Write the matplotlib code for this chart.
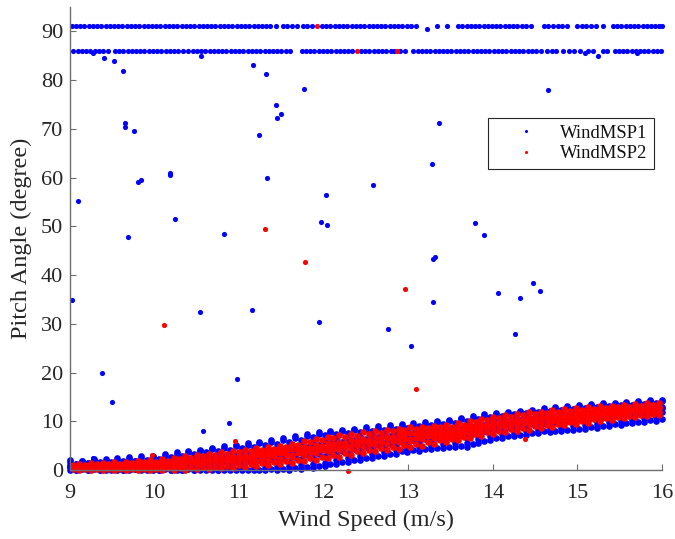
import matplotlib
matplotlib.use("Agg")
import matplotlib.pyplot as plt

# ---------------- data ----------------
series_names = ["WindMSP1", "WindMSP2"]
x_ticks = [9, 10, 11, 12, 13, 14, 15, 16]
y_ticks = [0, 10, 20, 30, 40, 50, 60, 70, 80, 90]

# dense band of WindMSP1 (columns of wind speed, several y samples per column)
msp1_band_x = [
    9.00, 9.07, 9.14, 9.21, 9.28, 9.35, 9.42, 9.49, 9.56, 9.63,
    9.70, 9.77, 9.84, 9.91, 9.98, 10.05, 10.12, 10.19, 10.26, 10.33,
    10.40, 10.47, 10.54, 10.61, 10.68, 10.75, 10.82, 10.89, 10.96, 11.03,
    11.10, 11.17, 11.24, 11.31, 11.38, 11.45, 11.52, 11.59, 11.66, 11.73,
    11.80, 11.87, 11.94, 12.01, 12.08, 12.15, 12.22, 12.29, 12.36, 12.43,
    12.50, 12.57, 12.64, 12.71, 12.78, 12.85, 12.92, 12.99, 13.06, 13.13,
    13.20, 13.27, 13.34, 13.41, 13.48, 13.55, 13.62, 13.69, 13.76, 13.83,
    13.90, 13.97, 14.04, 14.11, 14.18, 14.25, 14.32, 14.39, 14.46, 14.53,
    14.60, 14.67, 14.74, 14.81, 14.88, 14.95, 15.02, 15.09, 15.16, 15.23,
    15.30, 15.37, 15.44, 15.51, 15.58, 15.65, 15.72, 15.79, 15.86, 15.93,
    16.00]
msp1_band_low = [
    0.1, 0.0, 0.2, 0.05, 0.15, 0.0, 0.1, 0.25, 0.0, 0.1,
    0.05, 0.2, 0.0, 0.15, 0.1, 0.0, 0.2, 0.05, 0.1, 0.0,
    0.15, 0.1, 0.0, 0.2, 0.05, 0.1, 0.0, 0.15, 0.1, 0.3,
    0.0, 0.4, 0.1, 0.5, 0.2, 0.6, 0.3, 0.8, 0.4, 1.0,
    0.7, 1.3, 0.9, 1.5, 1.2, 2.0, 1.6, 2.4, 2.0, 2.8,
    2.5, 3.3, 2.9, 3.7, 3.3, 4.1, 3.8, 4.5, 4.1, 4.8,
    4.4, 5.0, 4.6, 5.3, 4.8, 5.5, 5.0, 5.6, 5.4, 6.3,
    6.0, 6.9, 6.6, 7.3, 6.9, 7.6, 7.2, 8.0, 7.6, 8.3,
    7.9, 8.5, 8.1, 8.7, 8.3, 9.0, 8.5, 9.2, 8.8, 9.5,
    9.1, 9.8, 9.4, 10.0, 9.7, 10.3, 9.9, 10.6, 10.2, 10.9,
    10.5]
msp1_band_q1 = [
    0.6, 0.3, 0.7, 0.4, 0.8, 0.3, 0.7, 0.4, 0.9, 0.5,
    0.8, 0.4, 0.9, 0.5, 1.0, 0.5, 1.1, 0.6, 1.2, 0.7,
    1.3, 0.8, 1.4, 0.9, 1.5, 1.0, 1.6, 1.1, 1.7, 1.2,
    1.9, 1.3, 2.0, 1.5, 2.2, 1.6, 2.4, 1.9, 2.7, 2.2,
    3.0, 2.5, 3.3, 2.8, 3.6, 3.2, 4.0, 3.5, 4.4, 3.9,
    4.7, 4.3, 5.1, 4.6, 5.4, 5.0, 5.8, 5.3, 6.1, 5.6,
    6.3, 5.9, 6.6, 6.1, 6.8, 6.3, 7.1, 6.5, 7.4, 7.1,
    8.0, 7.7, 8.5, 8.0, 8.8, 8.3, 9.1, 8.6, 9.4, 8.9,
    9.7, 9.2, 9.9, 9.4, 10.1, 9.6, 10.4, 9.9, 10.6, 10.1,
    10.9, 10.4, 11.1, 10.6, 11.3, 10.9, 11.6, 11.1, 11.8, 11.4,
    12.0]
msp1_band_mid = [
    0.65, 0.9, 0.6, 0.82, 0.9, 0.7, 1.1, 0.85, 0.8, 1.1,
    1.02, 0.85, 1.25, 1.2, 1.1, 1.2, 1.55, 1.3, 1.6, 1.6,
    1.3, 1.9, 2.2, 1.7, 1.9, 2.3, 1.9, 2.7, 2.35, 2.25,
    2.6, 2.2, 3.0, 2.7, 3.1, 2.7, 3.15, 3.7, 3.3, 3.6,
    4.2, 3.6, 4.3, 4.38, 4.2, 4.9, 4.8, 5.4, 5.0, 5.0,
    5.6, 5.66, 6.1, 5.6, 6.0, 6.5, 6.3, 7.0, 6.5, 6.87,
    7.1, 7.0, 6.8, 7.6, 7.3, 7.8, 7.73, 7.6, 8.5, 8.3,
    8.7, 8.7, 8.7, 9.5, 9.36, 9.4, 9.8, 9.5, 10.3, 9.85,
    10.1, 10.4, 10.1, 10.8, 10.65, 10.4, 11.1, 10.9, 11.5, 11.0,
    11.33, 11.1, 11.7, 12.0, 11.4, 11.8, 12.2, 11.9, 12.6, 12.0,
    12.65]
msp1_band_q3 = [
    1.0, 1.3, 0.9, 1.4, 1.0, 1.5, 1.1, 1.6, 1.2, 1.7,
    1.3, 1.8, 1.4, 1.9, 1.5, 2.1, 1.7, 2.3, 1.9, 2.6,
    2.2, 2.8, 2.4, 3.0, 2.6, 3.3, 2.8, 3.5, 3.0, 3.7,
    3.3, 4.0, 3.5, 4.2, 3.8, 4.5, 4.0, 4.8, 4.4, 5.2,
    4.8, 5.6, 5.2, 6.0, 5.5, 6.3, 5.8, 6.5, 6.1, 6.8,
    6.4, 7.1, 6.7, 7.4, 6.9, 7.6, 7.2, 7.9, 7.5, 8.2,
    7.7, 8.4, 7.9, 8.6, 8.2, 8.9, 8.5, 9.2, 8.9, 9.7,
    9.3, 10.1, 9.8, 10.4, 10.0, 10.7, 10.3, 10.9, 10.5, 11.2,
    10.8, 11.4, 11.0, 11.7, 11.3, 11.9, 11.5, 12.1, 11.7, 12.3,
    11.9, 12.5, 12.1, 12.7, 12.3, 12.9, 12.5, 13.1, 12.7, 13.3,
    12.9]
msp1_band_high = [
    1.6, 1.3, 1.8, 1.5, 2.0, 1.6, 1.9, 1.5, 2.1, 1.8,
    2.3, 1.9, 2.4, 2.1, 2.6, 2.3, 2.9, 2.6, 3.3, 2.9,
    3.6, 3.2, 3.9, 3.6, 4.3, 3.9, 4.5, 4.2, 4.9, 4.5,
    5.1, 4.8, 5.5, 5.1, 5.8, 5.4, 6.1, 5.8, 6.6, 6.2,
    7.0, 6.7, 7.4, 7.1, 7.8, 7.4, 8.0, 7.6, 8.2, 7.8,
    8.4, 8.1, 8.6, 8.3, 8.9, 8.5, 9.1, 8.7, 9.3, 9.0,
    9.5, 9.2, 9.8, 9.4, 10.0, 9.7, 10.4, 10.1, 10.7, 10.5,
    11.1, 10.9, 11.5, 11.1, 11.7, 11.4, 11.9, 11.6, 12.2, 11.8,
    12.4, 12.1, 12.7, 12.3, 12.9, 12.6, 13.1, 12.8, 13.3, 12.9,
    13.5, 13.1, 13.6, 13.3, 13.8, 13.4, 14.0, 13.6, 14.1, 13.8,
    14.2]
msp1_band_edge = [
    2.1, 0.0, 1.9, 0.1, 2.3, 0.0, 2.2, 0.1, 2.5, 0.0,
    2.6, 0.2, 2.8, 0.0, 2.9, 0.1, 3.3, 0.0, 3.6, 0.1,
    4.0, 0.0, 4.2, 0.1, 4.6, -0.1, 4.9, 0.0, 5.1, -0.1,
    5.5, 0.0, 5.8, -0.1, 6.1, 0.0, 6.5, 0.1, 6.9, 0.3,
    7.3, 0.5, 7.7, 0.8, 8.0, 1.2, 8.3, 1.7, 8.5, 2.1,
    8.8, 2.5, 9.0, 2.9, 9.2, 3.3, 9.4, 3.7, 9.6, 4.0,
    9.8, 4.3, 10.0, 4.5, 10.3, 4.7, 10.6, 4.8, 11.0, 5.5,
    11.4, 6.1, 11.7, 6.5, 12.0, 6.9, 12.2, 7.2, 12.4, 7.6,
    12.7, 7.7, 12.9, 8.0, 13.1, 8.2, 13.3, 8.5, 13.5, 8.7,
    13.7, 9.0, 13.8, 9.3, 14.0, 9.6, 14.2, 9.8, 14.3, 10.1,
    14.4]

# WindMSP1 samples stuck at the two pitch limits
msp1_row_hi_level = 91.0
msp1_row_hi_x = [
    9.02, 9.07, 9.12, 9.17, 9.22, 9.27, 9.32, 9.37, 9.42, 9.47, 9.52, 9.57,
    9.62, 9.67, 9.72, 9.77, 9.82, 9.87, 9.92, 9.97, 10.02, 10.07, 10.12,
    10.17, 10.22, 10.27, 10.32, 10.37, 10.42, 10.47, 10.52, 10.57, 10.62,
    10.67, 10.72, 10.77, 10.82, 10.87, 10.92, 10.97, 11.02, 11.07, 11.12,
    11.17, 11.22, 11.27, 11.32, 11.37, 11.44,
    11.52, 11.57, 11.63, 11.69, 11.75, 11.80, 11.86,
    11.98, 12.03, 12.08, 12.13, 12.18, 12.23, 12.28, 12.33, 12.38, 12.43,
    12.48, 12.53, 12.58, 12.63, 12.68, 12.73, 12.78, 12.83, 12.88, 12.93,
    12.98, 13.03, 13.09, 13.34, 13.46,
    13.59, 13.64, 13.69, 13.74, 13.79, 13.84, 13.89, 13.94, 13.99, 14.04,
    14.09, 14.14, 14.19, 14.24, 14.29, 14.34, 14.39, 14.45,
    14.60, 14.65, 14.71, 14.77, 14.82, 14.88,
    15.00, 15.05, 15.10, 15.16, 15.22, 15.30,
    15.42, 15.47, 15.52, 15.57, 15.62, 15.67, 15.72, 15.77, 15.82, 15.87,
    15.92, 15.97, 16.00]
msp1_row_lo_level = 86.0
msp1_row_lo_x = [
    9.04, 9.09, 9.14, 9.19, 9.24, 9.29, 9.34, 9.39, 9.45,
    9.53, 9.58, 9.63, 9.68, 9.73, 9.78, 9.83, 9.88, 9.93, 9.98, 10.03,
    10.08, 10.13, 10.18, 10.23, 10.28, 10.34,
    10.40, 10.45, 10.50, 10.55, 10.60, 10.65, 10.70, 10.75, 10.80, 10.85,
    10.90, 10.95, 11.00, 11.05, 11.10, 11.15, 11.20, 11.25, 11.30, 11.35,
    11.40, 11.45, 11.50, 11.55, 11.60,
    11.74, 11.79, 11.84, 11.89, 11.94, 11.99, 12.04, 12.09, 12.14, 12.19,
    12.24, 12.29, 12.34, 12.44, 12.49, 12.54, 12.59, 12.64, 12.69, 12.74,
    12.79, 12.83, 12.90, 12.96,
    13.06, 13.11, 13.16, 13.21, 13.26, 13.31, 13.36, 13.41, 13.46, 13.51,
    13.56, 13.61, 13.66, 13.71, 13.76, 13.81, 13.86, 13.91, 13.96, 14.01,
    14.06, 14.11, 14.16, 14.21, 14.26, 14.31, 14.36, 14.41, 14.46, 14.51,
    14.57,
    14.64, 14.70, 14.75, 14.83, 14.90, 14.96, 15.03, 15.12, 15.18, 15.30,
    15.35,
    15.44, 15.49, 15.54, 15.59, 15.64, 15.69, 15.74, 15.79, 15.84, 15.89,
    15.94, 15.99]

# scattered WindMSP1 points
msp1_out_x = [9.02, 9.09, 9.38, 9.50, 9.40, 9.52, 9.63, 9.65, 9.65, 9.76,
              9.69, 9.80, 9.84, 10.18, 10.18, 10.24, 10.54, 10.55, 10.57, 10.82,
              10.88, 10.97, 11.15, 11.16, 11.23, 11.32, 11.33, 11.43, 11.45, 11.50,
              11.77, 11.94, 11.97, 12.04, 12.03, 12.58, 12.76, 13.03, 13.22, 13.28,
              13.29, 13.32, 13.29, 13.36, 13.79, 13.90, 14.06, 14.26, 14.32, 14.47,
              14.56, 14.65, 15.09, 15.24, 15.70, 9.27, 9.27]
msp1_out_y = [34.8, 55.1, 19.9, 13.9, 84.5, 83.9, 81.8, 71.1, 70.3, 69.5,
              47.8, 59.0, 59.5, 60.9, 60.5, 51.5, 32.4, 84.9, 8.0, 48.4,
              9.6, 18.7, 32.8, 83.0, 68.7, 81.2, 59.9, 74.8, 72.3, 73.0,
              78.1, 30.3, 50.8, 50.2, 56.4, 58.4, 28.9, 25.4, 90.4, 62.8,
              43.3, 43.7, 34.4, 71.1, 50.6, 48.2, 36.3, 27.9, 35.3, 38.3,
              36.7, 77.9, 85.5, 84.9, 85.5, 85.5, 2.5]

# dense band of WindMSP2
msp2_band_x = [
    9.035, 9.105, 9.175, 9.245, 9.315, 9.385, 9.455, 9.525, 9.595, 9.665,
    9.735, 9.805, 9.875, 9.945, 10.015, 10.085, 10.155, 10.225, 10.295, 10.365,
    10.435, 10.505, 10.575, 10.645, 10.715, 10.785, 10.855, 10.925, 10.995, 11.065,
    11.135, 11.205, 11.275, 11.345, 11.415, 11.485, 11.555, 11.625, 11.695, 11.765,
    11.835, 11.905, 11.975, 12.045, 12.115, 12.185, 12.255, 12.325, 12.395, 12.465,
    12.535, 12.605, 12.675, 12.745, 12.815, 12.885, 12.955, 13.025, 13.095, 13.165,
    13.235, 13.305, 13.375, 13.445, 13.515, 13.585, 13.655, 13.725, 13.795, 13.865,
    13.935, 14.005, 14.075, 14.145, 14.215, 14.285, 14.355, 14.425, 14.495, 14.565,
    14.635, 14.705, 14.775, 14.845, 14.915, 14.985, 15.055, 15.125, 15.195, 15.265,
    15.335, 15.405, 15.475, 15.545, 15.615, 15.685, 15.755, 15.825, 15.895, 15.965]
msp2_band_low = [
    0.2, 0.0, 0.3, 0.1, 0.2, 0.0, 0.3, 0.1, 0.2, 0.0,
    0.3, 0.1, 0.2, 0.0, 0.3, 0.1, 0.4, 0.1, 0.4, 0.1,
    0.5, 0.2, 0.6, 0.3, 0.7, 0.4, 0.8, 0.5, 1.0, 0.6,
    1.2, 0.8, 1.4, 1.0, 1.6, 1.2, 1.8, 1.4, 2.1, 1.8,
    2.4, 2.0, 2.7, 2.4, 3.1, 2.7, 3.4, 3.1, 3.8, 3.5,
    4.1, 3.8, 4.5, 4.1, 4.8, 4.4, 5.1, 4.7, 5.4, 5.0,
    5.7, 5.4, 6.1, 5.7, 6.4, 6.1, 6.8, 6.5, 7.3, 7.0,
    7.7, 7.4, 8.1, 7.8, 8.4, 8.0, 8.7, 8.3, 9.0, 8.6,
    9.2, 8.9, 9.5, 9.2, 9.8, 9.4, 10.1, 9.7, 10.4, 10.0,
    10.6, 10.3, 10.9, 10.6, 11.1, 10.8, 11.3, 11.0, 11.5, 11.2]
msp2_band_q1 = [
    0.5, 0.3, 0.6, 0.4, 0.7, 0.4, 0.7, 0.5, 0.8, 0.5,
    0.8, 0.6, 0.9, 0.6, 1.0, 0.7, 1.1, 0.8, 1.2, 0.9,
    1.4, 1.0, 1.5, 1.2, 1.7, 1.3, 1.9, 1.5, 2.1, 1.7,
    2.3, 1.9, 2.5, 2.1, 2.8, 2.3, 3.0, 2.6, 3.4, 3.0,
    3.7, 3.4, 4.1, 3.8, 4.4, 4.1, 4.8, 4.4, 5.1, 4.8,
    5.4, 5.1, 5.7, 5.4, 6.0, 5.7, 6.3, 6.0, 6.6, 6.3,
    6.9, 6.6, 7.1, 6.8, 7.4, 7.2, 7.8, 7.6, 8.3, 8.1,
    8.7, 8.5, 9.1, 8.8, 9.4, 9.1, 9.7, 9.4, 10.0, 9.7,
    10.2, 10.0, 10.5, 10.2, 10.8, 10.5, 11.0, 10.7, 11.3, 11.0,
    11.5, 11.2, 11.7, 11.5, 11.9, 11.6, 12.1, 11.8, 12.3, 12.0]
msp2_band_mid = [
    0.7, 0.5, 0.85, 0.68, 0.65, 0.9, 0.55, 0.8, 0.95, 0.75,
    0.89, 1.1, 0.8, 0.95, 1.15, 1.15, 1.0, 1.4, 1.25, 1.42,
    1.9, 1.5, 1.4, 2.0, 2.0, 1.8, 2.4, 1.8, 2.3, 2.6,
    2.4, 3.0, 2.5, 3.0, 2.8, 3.4, 3.26, 3.1, 3.9, 4.0,
    3.7, 4.6, 4.3, 4.63, 5.1, 4.8, 5.2, 4.9, 5.6, 5.9,
    5.6, 5.9, 5.8, 6.6, 6.4, 6.3, 6.8, 6.4, 7.2, 7.04,
    7.1, 7.4, 7.8, 7.2, 7.9, 7.7, 8.08, 8.6, 8.1, 8.9,
    8.9, 9.4, 9.8, 9.2, 9.66, 9.9, 9.7, 10.4, 9.8, 10.6,
    10.6, 10.5, 11.0, 10.6, 10.99, 11.5, 11.0, 11.5, 11.1, 11.8,
    11.68, 12.1, 11.8, 11.7, 12.5, 12.3, 12.1, 12.6, 12.0, 12.8]
msp2_band_q3 = [
    0.7, 0.9, 0.8, 1.0, 0.8, 1.1, 0.9, 1.1, 1.0, 1.2,
    1.0, 1.3, 1.1, 1.4, 1.2, 1.6, 1.4, 1.8, 1.6, 2.0,
    1.8, 2.2, 2.0, 2.4, 2.2, 2.7, 2.4, 2.9, 2.6, 3.1,
    2.9, 3.4, 3.1, 3.6, 3.4, 3.9, 3.6, 4.3, 4.1, 4.7,
    4.5, 5.1, 4.9, 5.5, 5.3, 5.8, 5.6, 6.1, 5.9, 6.4,
    6.2, 6.7, 6.5, 7.0, 6.8, 7.3, 7.1, 7.6, 7.4, 7.8,
    7.6, 8.0, 7.8, 8.2, 8.0, 8.6, 8.4, 9.0, 8.9, 9.5,
    9.3, 9.9, 9.7, 10.2, 10.0, 10.5, 10.3, 10.8, 10.6, 11.0,
    10.8, 11.3, 11.1, 11.5, 11.3, 11.8, 11.6, 12.0, 11.8, 12.2,
    12.0, 12.4, 12.2, 12.6, 12.4, 12.8, 12.5, 12.9, 12.7, 13.0]
msp2_band_high = [
    1.0, 1.3, 1.1, 1.4, 1.2, 1.5, 1.2, 1.6, 1.3, 1.7,
    1.4, 1.9, 1.6, 2.0, 1.7, 2.2, 1.9, 2.5, 2.2, 2.8,
    2.5, 3.1, 2.8, 3.3, 3.0, 3.6, 3.3, 3.9, 3.6, 4.2,
    3.9, 4.5, 4.1, 4.7, 4.4, 5.0, 4.7, 5.4, 5.2, 5.9,
    5.7, 6.4, 6.1, 6.8, 6.5, 7.1, 6.8, 7.4, 7.0, 7.7,
    7.3, 7.9, 7.6, 8.2, 7.9, 8.5, 8.2, 8.8, 8.4, 8.9,
    8.6, 9.1, 8.8, 9.3, 8.9, 9.6, 9.3, 10.0, 9.8, 10.5,
    10.2, 10.9, 10.6, 11.2, 10.9, 11.5, 11.2, 11.8, 11.5, 12.0,
    11.7, 12.3, 11.9, 12.5, 12.2, 12.7, 12.4, 12.9, 12.6, 13.1,
    12.7, 13.2, 12.9, 13.4, 13.0, 13.5, 13.2, 13.7, 13.3, 13.8]

# scattered WindMSP2 points
msp2_out_x = [10.11, 11.31, 11.78, 12.96, 13.09, 10.95, 9.97, 14.38, 12.29,
              11.92, 12.39, 12.87]
msp2_out_y = [29.8, 49.4, 42.6, 37.1, 16.6, 6.0, 3.0, 6.3, -0.3,
              91.0, 86.0, 86.0]

# ---------------- assemble series ----------------
msp1_bx = msp1_band_x * 6
msp1_by = (msp1_band_low + msp1_band_q1 + msp1_band_mid + msp1_band_q3
           + msp1_band_high + msp1_band_edge)
msp1_sx = msp1_row_hi_x + msp1_row_lo_x + msp1_out_x
msp1_sy = ([msp1_row_hi_level] * len(msp1_row_hi_x)
           + [msp1_row_lo_level] * len(msp1_row_lo_x) + msp1_out_y)
msp2_bx = msp2_band_x * 5
msp2_by = (msp2_band_low + msp2_band_q1 + msp2_band_mid + msp2_band_q3
           + msp2_band_high)

# ---------------- figure ----------------
plt.rcParams['font.family'] = ['Liberation Serif', 'DejaVu Serif']

fig = plt.figure(figsize=(6.75, 5.39), dpi=100)
ax = fig.add_axes([70 / 675, 69 / 539, 592 / 675, 463 / 539])

blue, red = '#0000ff', '#ff0000'
ms_pt, ms_band = 3.7, 4.8
ax.plot(msp1_bx, msp1_by, linestyle='none', marker='o', ms=ms_band,
        markeredgewidth=0, color=blue, clip_on=False)
ax.plot(msp1_sx, msp1_sy, linestyle='none', marker='o', ms=ms_pt,
        markeredgewidth=0, color=blue, label=series_names[0], clip_on=False)
ax.plot(msp2_bx, msp2_by, linestyle='none', marker='o', ms=ms_band,
        markeredgewidth=0, color=red, clip_on=False)
ax.plot(msp2_out_x, msp2_out_y, linestyle='none', marker='o', ms=ms_pt,
        markeredgewidth=0, color=red, label=series_names[1], clip_on=False)

ax.set_xlim(9, 16)
ax.set_ylim(0, 95)
ax.set_xticks(x_ticks)
ax.set_yticks(y_ticks)
for s in ['top', 'right']:
    ax.spines[s].set_visible(False)
for s in ['left', 'bottom']:
    ax.spines[s].set_color('#6e6e6e')
    ax.spines[s].set_linewidth(1.0)
ax.tick_params(direction='in', length=4, width=0.8, colors='#6e6e6e',
               labelcolor='#262626', labelsize=16)
ax.tick_params(axis='x', pad=10)
ax.tick_params(axis='y', pad=5)

ax.set_xlabel('Wind Speed (m/s)', fontsize=17.5, color='#262626', labelpad=5)
ax.set_ylabel('Pitch Angle (degree)', fontsize=17.5, color='#262626', labelpad=6)

leg = ax.legend(loc='upper right', bbox_to_anchor=(654 / 675, 1 - 118 / 539),
                bbox_transform=fig.transFigure, borderaxespad=0,
                fontsize=13.4, frameon=True, fancybox=False, framealpha=1,
                edgecolor='#262626', handlelength=3.4, handletextpad=0.15,
                borderpad=0.35, labelspacing=0.2, markerscale=0.6)
leg.get_frame().set_linewidth(0.8)
for t in leg.get_texts():
    t.set_color('#111111')

fig.savefig('out.png', dpi=100)
